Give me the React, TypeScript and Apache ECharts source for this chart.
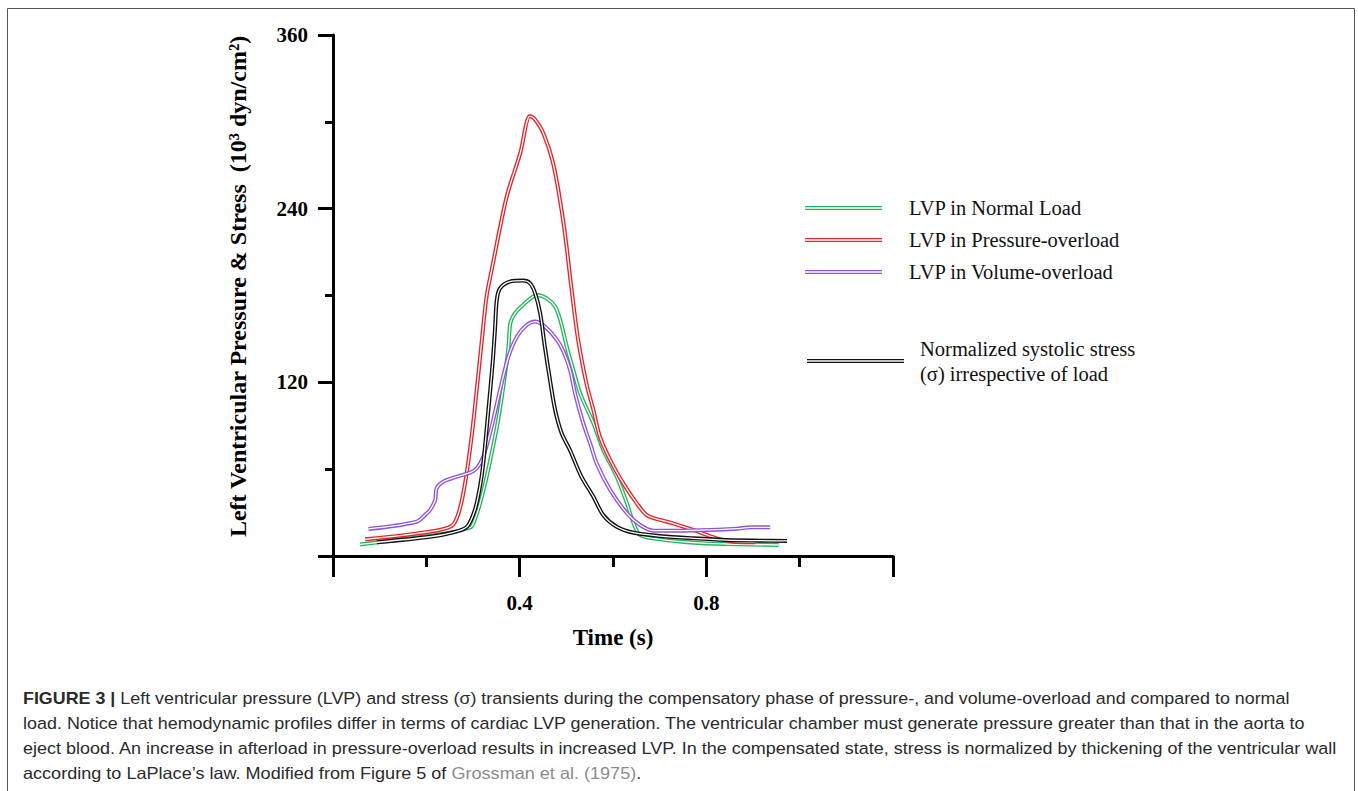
import React, { useEffect, useRef } from 'react';
import * as echarts from 'echarts';

// ---- Data (time in s, value in 10^3 dyn/cm^2 / mmHg scale) ----
const normalX = [0.058, 0.150, 0.257, 0.285, 0.297, 0.311, 0.326, 0.340, 0.354, 0.367, 0.376, 0.380, 0.390, 0.415, 0.437, 0.458, 0.476, 0.487, 0.501, 0.515, 0.530, 0.558, 0.579, 0.608, 0.630, 0.644, 0.658, 0.701, 0.772, 0.844, 0.955];
const normalY = [8, 11.5, 16.5, 19, 20.2, 31.8, 50.2, 71, 94, 121.6, 144.6, 160.8, 167.7, 175.7, 180.3, 178, 172.3, 163, 144.6, 128.5, 112, 91.7, 73.3, 54.8, 36.4, 22.6, 14.5, 11.5, 9.2, 8.3, 7.6];

const pressureX = [0.069, 0.208, 0.254, 0.269, 0.283, 0.297, 0.308, 0.319, 0.329, 0.340, 0.372, 0.401, 0.422, 0.432, 0.451, 0.472, 0.494, 0.511, 0.525, 0.543, 0.558, 0.572, 0.594, 0.622, 0.651, 0.672, 0.701, 0.729, 0.772, 0.822, 0.858, 0.905];
const pressureY = [11.5, 16.8, 20.7, 29.5, 50.2, 82.4, 114.7, 149.3, 179.2, 197.6, 248, 278, 304, 302, 292, 271, 230, 185, 150, 119.3, 100.9, 82.4, 66.3, 50.2, 36.4, 28.3, 24.9, 22.6, 18, 12.2, 9.9, 9.5];

const volumeX = [0.076, 0.179, 0.201, 0.208, 0.219, 0.222, 0.236, 0.265, 0.294, 0.308, 0.322, 0.340, 0.358, 0.376, 0.394, 0.415, 0.433, 0.454, 0.480, 0.494, 0.508, 0.519, 0.536, 0.551, 0.565, 0.594, 0.630, 0.658, 0.687, 0.737, 0.808, 0.865, 0.894, 0.937];
const volumeY = [18.7, 23.7, 29.5, 31.8, 38.7, 46.8, 51.3, 54.8, 57.6, 60.6, 68.6, 89.4, 114.7, 137.7, 151.5, 159.6, 162, 158.5, 149.3, 141.2, 128.5, 112, 92, 77.8, 64, 45.6, 29.5, 21.4, 17.5, 17.5, 18, 18.9, 19.8, 19.8];

const stressX = [0.094, 0.208, 0.258, 0.287, 0.304, 0.315, 0.322, 0.333, 0.342, 0.347, 0.351, 0.358, 0.379, 0.408, 0.422, 0.433, 0.444, 0.454, 0.465, 0.476, 0.490, 0.508, 0.532, 0.558, 0.579, 0.608, 0.644, 0.701, 0.772, 0.844, 0.915, 0.973];
const stressY = [9.5, 13.3, 16.4, 20.2, 31.8, 47.9, 64, 100.9, 133, 156, 177, 185, 189.6, 190.3, 188.5, 181.6, 167.7, 144.6, 121.6, 100.9, 84.8, 73, 55, 41, 28.3, 20.2, 16.1, 13.8, 12.2, 11, 10.6, 10.4];

const seriesNames = [
  'LVP in Normal Load',
  'LVP in Pressure-overload',
  'LVP in Volume-overload',
  'Normalized systolic stress (σ) irrespective of load',
];
const seriesColors = ['#27b45f', '#e3262c', '#8f55d8', '#111111'];

const xTickLabels = ['0.4', '0.8'];
const yTickLabels = ['120', '240', '360'];
const xAxisTitle = 'Time (s)';
const yAxisTitle = 'Left Ventricular Pressure & Stress  (10³ dyn/cm²)';

const captionLines: [string, string][][] = [
  [['FIGURE 3 |', 'b'], [' Left ventricular pressure (LVP) and stress (σ) transients during the compensatory phase of pressure-, and volume-overload and compared to normal', 'n']],
  [['load. Notice that hemodynamic profiles differ in terms of cardiac LVP generation. The ventricular chamber must generate pressure greater than that in the aorta to', 'n']],
  [['eject blood. An increase in afterload in pressure-overload results in increased LVP. In the compensated state, stress is normalized by thickening of the ventricular wall', 'n']],
  [['according to LaPlace’s law. Modified from Figure 5 of ', 'n'], ['Grossman et al. (1975)', 'g'], ['.', 'n']],
];
const captionRight = [1290, 1305, 1338, 641];

const pair = (xs: number[], ys: number[]) => xs.map((x, i) => [x, ys[i]]);

export default function App() {
  const ref = useRef<HTMLDivElement>(null);
  useEffect(() => {
    const chart = echarts.init(ref.current!, null, { renderer: 'svg' });
    const serif = '"Liberation Serif", "Times New Roman", serif';
    const sans = '"Liberation Sans", Arial, sans-serif';
    const capSize = 16.5;

    const ctx = document.createElement('canvas').getContext('2d')!;
    const measure = (segs: [string, string][]) => {
      let w = 0;
      for (const [t, k] of segs) {
        ctx.font = `${k === 'b' ? 'bold ' : ''}${capSize}px ${sans}`;
        w += ctx.measureText(t).width;
      }
      return w;
    };
    const capLeft = 23;
    const capTop = 698;
    const capStep = 25;
    const captionEls = captionLines.map((segs, i) => {
      const natural = measure(segs);
      const s = (captionRight[i] - capLeft) / natural;
      const text = segs.map(([t, k]) => `{${k}|${t}}`).join('');
      return {
        type: 'text',
        x: capLeft,
        y: capTop + i * capStep,
        scaleX: s,
        silent: true,
        style: {
          text,
          fontFamily: sans,
          fontSize: capSize,
          fill: '#2a2a2a',
          verticalAlign: 'middle',
          rich: {
            n: { fontFamily: sans, fontSize: capSize, fill: '#2a2a2a' },
            b: { fontFamily: sans, fontSize: capSize, fill: '#2a2a2a', fontWeight: 'bold' },
            g: { fontFamily: sans, fontSize: capSize, fill: '#8c8c8c' },
          },
        },
      };
    });

    const curves = [
      pair(normalX, normalY),
      pair(pressureX, pressureY),
      pair(volumeX, volumeY),
      pair(stressX, stressY),
    ];
    const series: any[] = [];
    curves.forEach((data, i) => {
      series.push({
        type: 'line',
        name: seriesNames[i],
        data,
        symbol: 'none',
        showSymbol: false,
        smooth: 0.3,
        color: seriesColors[i],
        itemStyle: { color: seriesColors[i] },
        lineStyle: { color: seriesColors[i], width: 4 },
        silent: true,
        xAxisIndex: 0,
        yAxisIndex: 0,
      });
      series.push({
        type: 'line',
        name: seriesNames[i] + ' (core)',
        data,
        symbol: 'none',
        showSymbol: false,
        smooth: 0.3,
        color: '#ffffff',
        lineStyle: { color: '#ffffff', width: 1.3 },
        silent: true,
        xAxisIndex: 0,
        yAxisIndex: 0,
      });
    });

    const labelStyle = { fontFamily: serif, fontWeight: 'bold', fontSize: 21, color: '#000' };
    const axisLine = { show: true, lineStyle: { color: '#000', width: 3 } };
    const doubleIcon = 'path://M0,0H100V33H0ZM0,67H100V100H0Z';

    const option: any = {
      animation: false,
      backgroundColor: '#ffffff',
      grid: { left: 333, right: 465, top: 35, bottom: 235, containLabel: false, outerBoundsMode: 'none' },
      xAxis: [
        {
          type: 'value', min: 0, max: 1.2, interval: 0.4, position: 'bottom',
          axisLine, splitLine: { show: false },
          axisTick: { show: true, length: 21, lineStyle: { color: '#000', width: 3 } },
          axisLabel: {
            ...labelStyle, margin: 36,
            formatter: (v: number) => { const s = v.toFixed(1); return xTickLabels.includes(s) ? s : ''; },
          },
          name: xAxisTitle, nameLocation: 'middle', nameGap: 81, nameMoveOverlap: false,
          nameTextStyle: { fontFamily: serif, fontWeight: 'bold', fontSize: 23, color: '#000', verticalAlign: 'middle' },
        },
        {
          type: 'value', min: 0, max: 1.2, interval: 0.2, position: 'bottom', offset: 0,
          axisLine: { show: false }, splitLine: { show: false }, axisLabel: { show: false },
          axisTick: { show: true, length: 11, lineStyle: { color: '#000', width: 3 } },
        },
      ],
      yAxis: [
        {
          type: 'value', min: 0, max: 360, interval: 120, position: 'left',
          axisLine, splitLine: { show: false },
          axisTick: { show: true, length: 15, lineStyle: { color: '#000', width: 3 } },
          axisLabel: {
            ...labelStyle, margin: 25,
            formatter: (v: number) => (yTickLabels.includes(String(v)) ? String(v) : ''),
          },
          name: yAxisTitle, nameLocation: 'middle', nameGap: 95, nameMoveOverlap: false,
          nameTextStyle: { fontFamily: serif, fontWeight: 'bold', fontSize: 24, color: '#000', verticalAlign: 'middle', padding: [0, 0, 0, 18] },
        },
        {
          type: 'value', min: 0, max: 360, interval: 60, position: 'left', offset: 0,
          axisLine: { show: false }, splitLine: { show: false }, axisLabel: { show: false },
          axisTick: { show: true, length: 8, lineStyle: { color: '#000', width: 3 } },
        },
      ],
      legend: [
        {
          data: seriesNames.slice(0, 3), orient: 'vertical', left: 800, top: 187,
          itemWidth: 77, itemHeight: 4, itemGap: 0, icon: doubleIcon, symbolKeepAspect: false,
          selectedMode: false, itemStyle: { borderWidth: 0 },
          textStyle: { fontFamily: serif, fontSize: 20.5, color: '#111', lineHeight: 32, padding: [0, 0, 0, 22] },
        },
        {
          data: [seriesNames[3]], orient: 'vertical', left: 802, top: 331,
          itemWidth: 97, itemHeight: 4, itemGap: 0, icon: doubleIcon, symbolKeepAspect: false,
          selectedMode: false, itemStyle: { borderWidth: 0 },
          formatter: () => 'Normalized systolic stress\n(σ) irrespective of load',
          textStyle: { fontFamily: serif, fontSize: 20.5, color: '#111', lineHeight: 25, padding: [0, 0, 0, 11] },
        },
      ],
      graphic: [
        {
          type: 'rect', silent: true, z: -10,
          shape: { x: 7.5, y: 8.5, width: 1347, height: 800 },
          style: { fill: 'none', stroke: '#555', lineWidth: 1 },
        },
        ...captionEls,
      ],
      series,
    };
    chart.setOption(option);
    return () => chart.dispose();
  }, []);
  return (
    <div
      ref={ref}
      style={{ position: 'absolute', left: 0, top: 0, width: 1358, height: 791, background: '#fff' }}
    />
  );
}
